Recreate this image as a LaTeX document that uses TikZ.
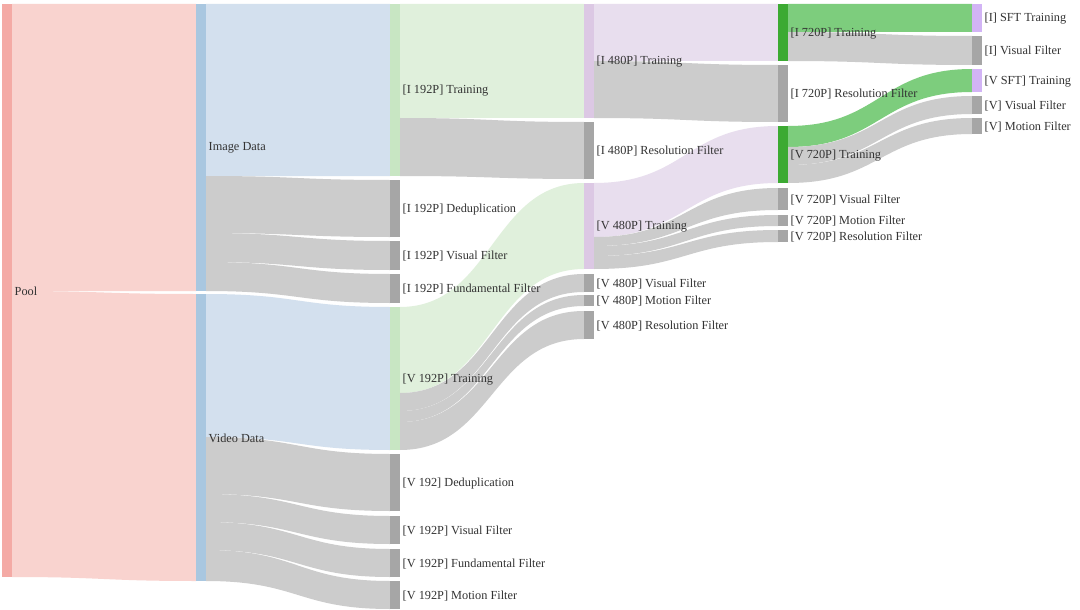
\documentclass[tikz,border=0pt]{standalone}
\usepackage{fontspec}
\setmainfont{Liberation Serif}
\usetikzlibrary{calc}
\pgfdeclarelayer{bg}
\pgfdeclarelayer{links}
\pgfsetlayers{bg,links,main}
\definecolor{poolnode}{HTML}{F4AAA5}
\definecolor{poollink}{HTML}{F9D3CF}
\definecolor{datanode}{HTML}{A9C7E0}
\definecolor{datalink}{HTML}{D3E0EE}
\definecolor{gnode}{HTML}{C8E6C3}
\definecolor{glink}{HTML}{E0F0DC}
\definecolor{pnode}{HTML}{DCC8E4}
\definecolor{plink}{HTML}{E8DEEE}
\definecolor{dgnode}{HTML}{3CAA32}
\definecolor{dglink}{HTML}{7DCD7D}
\definecolor{sftnode}{HTML}{D2B4F5}
\definecolor{filtnode}{HTML}{A6A6A6}
\definecolor{filtlink}{HTML}{CCCCCC}
\definecolor{txt}{HTML}{333333}
\tikzset{
  bar/.style={rectangle, inner sep=0pt, outer sep=0pt, minimum width=10pt, anchor=north west, draw=none},
  lbl/.style={anchor=west, inner sep=0pt, xshift=2.5pt, yshift=-0.7pt, text=txt, font=\fontsize{12.3}{14}\selectfont}
}
% node: name, x, top, bottom, colour
\newcommand{\sknode}[5]{\node[bar, fill=#5, minimum height={#4pt-#3pt}] (#1) at (#2,#3) {};}
% link: colour, source, src top off, src bottom off, target, tgt top off, tgt bottom off
\newcommand{\sklink}[7]{%
  \path ($(#2.north east)+(0pt,-#3pt)$) coordinate (la)
        ($(#2.north east)+(0pt,-#4pt)$) coordinate (lb)
        ($(#5.north west)+(0pt,-#6pt)$) coordinate (lc)
        ($(#5.north west)+(0pt,-#7pt)$) coordinate (ld)
        ($(la)!0.5!(lc)$) coordinate (lm);
  \begin{pgfonlayer}{links}
  \fill[#1] (la) .. controls (la -| lm) and (lc -| lm) .. (lc) -- (ld)
     .. controls (ld -| lm) and (lb -| lm) .. (lb) -- cycle;
  \end{pgfonlayer}}
\begin{document}
\begin{tikzpicture}[x=1pt,y=-1pt]
\begin{pgfonlayer}{bg}
\path[use as bounding box, fill=white] (0,0) rectangle (1080,610);
\end{pgfonlayer}
% column 1-2
\sknode{pool}{2}{4}{577}{poolnode}
\sknode{img}{196}{4}{291}{datanode}
\sknode{vid}{196}{294}{581}{datanode}
% column 3
\sknode{i192t}{390}{4}{176}{gnode}
\sknode{i192d}{390}{180}{237}{filtnode}
\sknode{i192v}{390}{241}{270}{filtnode}
\sknode{i192f}{390}{274}{303}{filtnode}
\sknode{v192t}{390}{307}{450}{gnode}
\sknode{v192d}{390}{454}{511}{filtnode}
\sknode{v192v}{390}{516}{544}{filtnode}
\sknode{v192f}{390}{549}{577}{filtnode}
\sknode{v192m}{390}{581}{609}{filtnode}
% column 4
\sknode{i480t}{584}{4}{118}{pnode}
\sknode{i480r}{584}{122}{179}{filtnode}
\sknode{v480t}{584}{183}{269}{pnode}
\sknode{v480v}{584}{274}{292}{filtnode}
\sknode{v480m}{584}{295}{306}{filtnode}
\sknode{v480r}{584}{311}{339}{filtnode}
% column 5
\sknode{i720t}{778}{4}{61}{dgnode}
\sknode{i720r}{778}{65}{122}{filtnode}
\sknode{v720t}{778}{126}{183}{dgnode}
\sknode{v720v}{778}{188}{210}{filtnode}
\sknode{v720m}{778}{215}{226}{filtnode}
\sknode{v720r}{778}{230}{242}{filtnode}
% column 6
\sknode{isft}{972}{4}{32}{sftnode}
\sknode{ivis}{972}{36}{65}{filtnode}
\sknode{vsft}{972}{69}{92}{sftnode}
\sknode{vvis}{972}{96}{114}{filtnode}
\sknode{vmot}{972}{118}{134}{filtnode}
% links
\sklink{poollink}{pool}{0}{287}{img}{0}{287}
\sklink{poollink}{pool}{287}{573}{vid}{0}{287}
\sklink{datalink}{img}{0}{172}{i192t}{0}{172}
\sklink{filtlink}{img}{172}{229}{i192d}{0}{57}
\sklink{filtlink}{img}{229}{258}{i192v}{0}{29}
\sklink{filtlink}{img}{258}{287}{i192f}{0}{29}
\sklink{datalink}{vid}{0}{143}{v192t}{0}{143}
\sklink{filtlink}{vid}{143}{200}{v192d}{0}{57}
\sklink{filtlink}{vid}{200}{228}{v192v}{0}{28}
\sklink{filtlink}{vid}{228}{256}{v192f}{0}{28}
\sklink{filtlink}{vid}{256}{287}{v192m}{0}{28}
\sklink{glink}{i192t}{0}{114}{i480t}{0}{114}
\sklink{filtlink}{i192t}{114}{172}{i480r}{0}{57}
\sklink{glink}{v192t}{0}{86}{v480t}{0}{86}
\sklink{filtlink}{v192t}{86}{104}{v480v}{0}{18}
\sklink{filtlink}{v192t}{104}{115}{v480m}{0}{11}
\sklink{filtlink}{v192t}{115}{143}{v480r}{0}{28}
\sklink{plink}{i480t}{0}{57}{i720t}{0}{57}
\sklink{filtlink}{i480t}{57}{114}{i720r}{0}{57}
\sklink{plink}{v480t}{0}{54}{v720t}{0}{57}
\sklink{filtlink}{v480t}{54}{63}{v720v}{0}{22}
\sklink{filtlink}{v480t}{63}{73}{v720m}{0}{11}
\sklink{filtlink}{v480t}{73}{86}{v720r}{0}{12}
\sklink{dglink}{i720t}{0}{28}{isft}{0}{28}
\sklink{filtlink}{i720t}{28}{57}{ivis}{0}{29}
\sklink{dglink}{v720t}{0}{21}{vsft}{0}{23}
\sklink{filtlink}{v720t}{21}{39}{vvis}{0}{18}
\sklink{filtlink}{v720t}{39}{57}{vmot}{0}{16}
% labels
\node[lbl] (pool-l) at (pool.east) {Pool};
\node[lbl] (img-l) at (img.east) {Image Data};
\node[lbl] (vid-l) at (vid.east) {Video Data};
\node[lbl] (i192t-l) at (i192t.east) {[I 192P] Training};
\node[lbl] (i192d-l) at (i192d.east) {[I 192P] Deduplication};
\node[lbl] (i192v-l) at (i192v.east) {[I 192P] Visual Filter};
\node[lbl] (i192f-l) at (i192f.east) {[I 192P] Fundamental Filter};
\node[lbl] (v192t-l) at (v192t.east) {[V 192P] Training};
\node[lbl] (v192d-l) at (v192d.east) {[V 192] Deduplication};
\node[lbl] (v192v-l) at (v192v.east) {[V 192P] Visual Filter};
\node[lbl] (v192f-l) at (v192f.east) {[V 192P] Fundamental Filter};
\node[lbl] (v192m-l) at (v192m.east) {[V 192P] Motion Filter};
\node[lbl] (i480t-l) at (i480t.east) {[I 480P] Training};
\node[lbl] (i480r-l) at (i480r.east) {[I 480P] Resolution Filter};
\node[lbl] (v480t-l) at (v480t.east) {[V 480P] Training};
\node[lbl] (v480v-l) at (v480v.east) {[V 480P] Visual Filter};
\node[lbl] (v480m-l) at (v480m.east) {[V 480P] Motion Filter};
\node[lbl] (v480r-l) at (v480r.east) {[V 480P] Resolution Filter};
\node[lbl] (i720t-l) at (i720t.east) {[I 720P] Training};
\node[lbl] (i720r-l) at (i720r.east) {[I 720P] Resolution Filter};
\node[lbl] (v720t-l) at (v720t.east) {[V 720P] Training};
\node[lbl] (v720v-l) at (v720v.east) {[V 720P] Visual Filter};
\node[lbl] (v720m-l) at (v720m.east) {[V 720P] Motion Filter};
\node[lbl] (v720r-l) at (v720r.east) {[V 720P] Resolution Filter};
\node[lbl] (isft-l) at (isft.east) {[I] SFT Training};
\node[lbl] (ivis-l) at (ivis.east) {[I] Visual Filter};
\node[lbl] (vsft-l) at (vsft.east) {[V SFT] Training};
\node[lbl] (vvis-l) at (vvis.east) {[V] Visual Filter};
\node[lbl] (vmot-l) at (vmot.east) {[V] Motion Filter};
\end{tikzpicture}
\end{document}
